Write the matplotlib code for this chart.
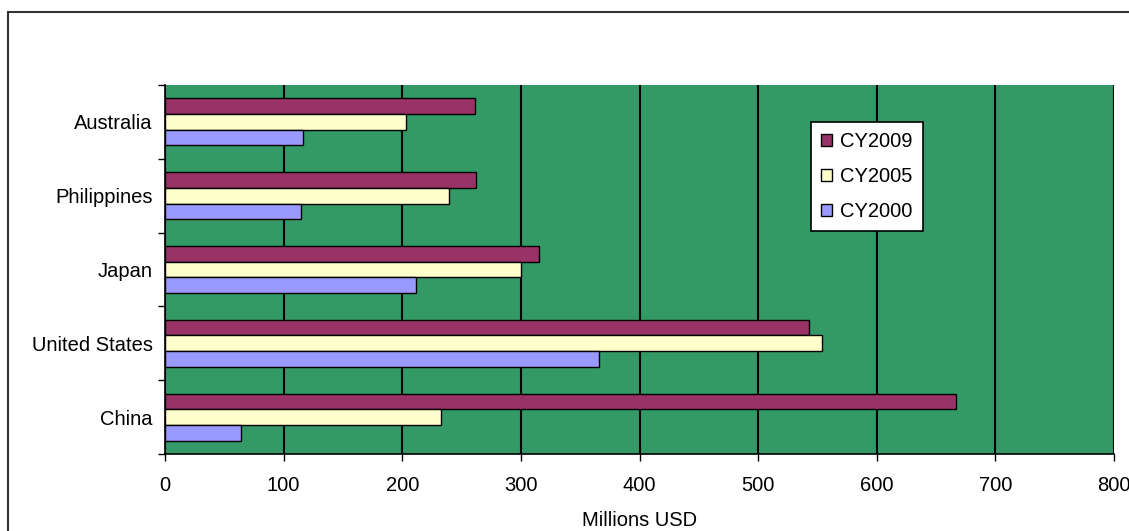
import matplotlib
matplotlib.use("Agg")
import matplotlib.pyplot as plt
import matplotlib.transforms as mtransforms
import numpy as np
from matplotlib.patches import Rectangle

plt.rcParams['font.family'] = ['Liberation Sans', 'DejaVu Sans']

categories = ["China", "United States", "Japan", "Philippines", "Australia"]
cy2009 = [667, 543, 315, 262, 261]
cy2005 = [233, 554, 300, 239, 203]
cy2000 = [64, 366, 212, 115, 116]
series_names = ["CY2009", "CY2005", "CY2000"]
colors = ["#993366", "#FFFFCC", "#9999FF"]
xticks = [0, 100, 200, 300, 400, 500, 600, 700, 800]

FS = 14.5
W, H = 1129, 531
fig = plt.figure(figsize=(W / 100, H / 100), dpi=100)

# outer chart border
fig.patches.append(Rectangle((8 / W, -0.1), 1.2, 1 - 11.5 / H + 0.1, transform=fig.transFigure,
                             fill=False, edgecolor="#333333", linewidth=1.5))

left, right, top, bottom = 165, 1114, 85, 454
ax = fig.add_axes([left / W, 1 - bottom / H, (right - left) / W, (bottom - top) / H])
ax.set_facecolor("#339966")

y = np.arange(len(categories))
h = 0.213
for i, (vals, name, c) in enumerate(zip([cy2009, cy2005, cy2000], series_names, colors)):
    ax.barh(y + (1 - i) * h, vals, height=h, color=c, edgecolor="black", linewidth=1.0,
            label=name, zorder=3)

ax.set_xlim(0, 800)
ax.set_ylim(-0.5, len(categories) - 0.5)
ax.set_xticks(xticks)
ax.set_xticklabels([str(t) for t in xticks], fontsize=FS)
ax.xaxis.grid(True, color="black", linewidth=1.5, zorder=1)
ax.set_axisbelow(True)

ax.set_yticks(y)
ax.set_yticklabels(categories, fontsize=FS)
shift = mtransforms.ScaledTranslation(0, -3 / 100, fig.dpi_scale_trans)
for lbl in ax.get_yticklabels():
    lbl.set_transform(lbl.get_transform() + shift)
ax.tick_params(axis='y', length=0, pad=9)
ax.set_yticks(np.arange(-0.5, len(categories), 1), minor=True)
ax.tick_params(axis='y', which='minor', length=5, width=1, direction='out')
ax.tick_params(axis='x', length=5, width=1, direction='out', pad=11)

for s in ["top", "right"]:
    ax.spines[s].set_visible(False)
ax.spines["left"].set_linewidth(1.2)
ax.spines["bottom"].set_linewidth(1.2)

ax.set_xlabel("Millions USD", fontsize=FS, labelpad=11)

leg = ax.legend(loc="upper left", bbox_to_anchor=((811 - left) / (right - left), 1 - (122 - top) / (bottom - top)),
                borderaxespad=0, fontsize=FS, frameon=True, fancybox=False, framealpha=1, edgecolor="black",
                handlelength=0.55, handleheight=0.55, labelspacing=0.8, borderpad=0.5, handletextpad=0.4)
leg.get_frame().set_linewidth(1.2)

fig.savefig("out.png", dpi=100)
